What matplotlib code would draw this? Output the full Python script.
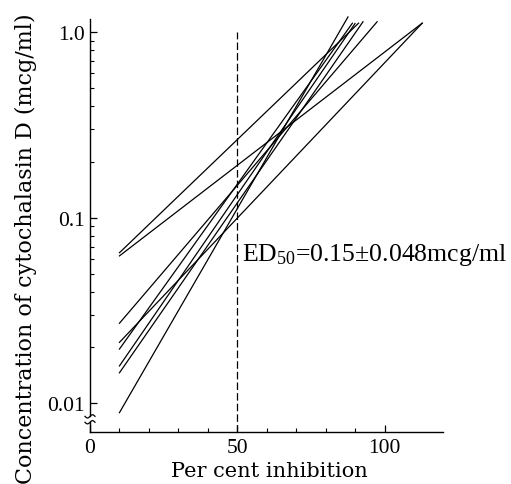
import numpy as np
import matplotlib
matplotlib.use("Agg")
import matplotlib.pyplot as plt
from matplotlib.lines import Line2D
from matplotlib.ticker import FixedLocator, NullFormatter

plt.rcParams['mathtext.fontset'] = 'custom'
plt.rcParams['mathtext.rm'] = 'Liberation Serif'
plt.rcParams['mathtext.default'] = 'regular'

#Dose-response lines, each one from its start point to its end point
start_pct = [10, 10, 10, 10, 10, 10, 10, 10]
start_conc = [0.0648, 0.0623, 0.0270, 0.0213, 0.0196, 0.0159, 0.0146, 0.0089]
end_pct = [91.2, 112.8, 97.5, 112.8, 89.1, 90.0, 92.7, 87.6]
end_conc = [1.12, 1.12, 1.14, 1.12, 1.12, 1.115, 1.14, 1.21]

#ED50 marker
ed50_pct = 50
ed50_top = 1.0

x_ticks = [0, 50, 100]
x_minor = [10, 20, 30, 40, 60, 70, 80, 90]
y_ticks = [0.01, 0.1, 1.0]
y_tick_labels = ["0.01", "0.1", "1.0"]
y_minor = [m * d for d in (0.01, 0.1) for m in range(2, 10)]

fig = plt.figure(figsize=(5.11, 4.85), dpi=100)
ax = fig.add_axes([90 / 511, 52 / 485, 353.4 / 511, 418 / 485])

for xs, ys, xe, ye in zip(start_pct, start_conc, end_pct, end_conc):
    ax.plot([xs, xe], [ys, ye], color='black', lw=0.9, clip_on=False)

y_bottom = 0.007
ax.plot([ed50_pct, ed50_pct], [y_bottom, ed50_top], color='black', lw=0.9,
        linestyle=(0, (6, 2.5)))

ax.set_yscale('log')
ax.set_xlim(0, 120)
ax.set_ylim(y_bottom, 1.255)

ax.spines['top'].set_visible(False)
ax.spines['right'].set_visible(False)
ax.spines['left'].set_bounds(0.0085, 1.18)
ax.spines['left'].set_linewidth(1.0)
ax.spines['bottom'].set_linewidth(1.0)

#Axis break on the y axis: lower piece of the spine + two small waves
ax.plot([0, 0], [y_bottom, 0.0079], color='black', lw=1.0, clip_on=False)
inv = fig.transFigure.inverted()
t = np.linspace(-1, 1, 40)
for yb in (0.0085, 0.0079):
    px, py = ax.transData.transform((0, yb))
    wx = px + 5 * t
    wy = py + 1.6 * np.sin(t * np.pi)
    pts = inv.transform(np.column_stack([wx, wy]))
    fig.add_artist(Line2D(pts[:, 0], pts[:, 1], color='black', lw=0.9,
                          transform=fig.transFigure))

ax.xaxis.set_major_locator(FixedLocator(x_ticks))
ax.xaxis.set_minor_locator(FixedLocator(x_minor))
ax.yaxis.set_major_locator(FixedLocator(y_ticks))
ax.yaxis.set_minor_locator(FixedLocator(y_minor))
ax.yaxis.set_minor_formatter(NullFormatter())
ax.set_xticklabels([str(t) for t in x_ticks])
ax.set_yticklabels(y_tick_labels)

ax.tick_params(which='both', direction='in', top=False, right=False)
ax.tick_params(which='major', length=5, width=0.9, labelsize=15.5, pad=4)
ax.tick_params(which='minor', length=3, width=0.8)
for lab in ax.get_xticklabels() + ax.get_yticklabels():
    lab.set_family('Liberation Serif')

ax.set_xlabel("Per cent inhibition", family='DejaVu Serif', fontsize=15)
ax.xaxis.set_label_coords(0.507, -0.07)
ax.set_ylabel("Concentration of cytochalasin D (mcg/ml)", family='DejaVu Serif', fontsize=16)
ax.yaxis.set_label_coords(-0.15, 0.44)

ax.text(51.5, 0.064, "ED$_{50}$=0.15±0.048mcg/ml", family='Liberation Serif',
        fontsize=18.5, ha='left', va='center')

fig.savefig("out.png", dpi=100)
